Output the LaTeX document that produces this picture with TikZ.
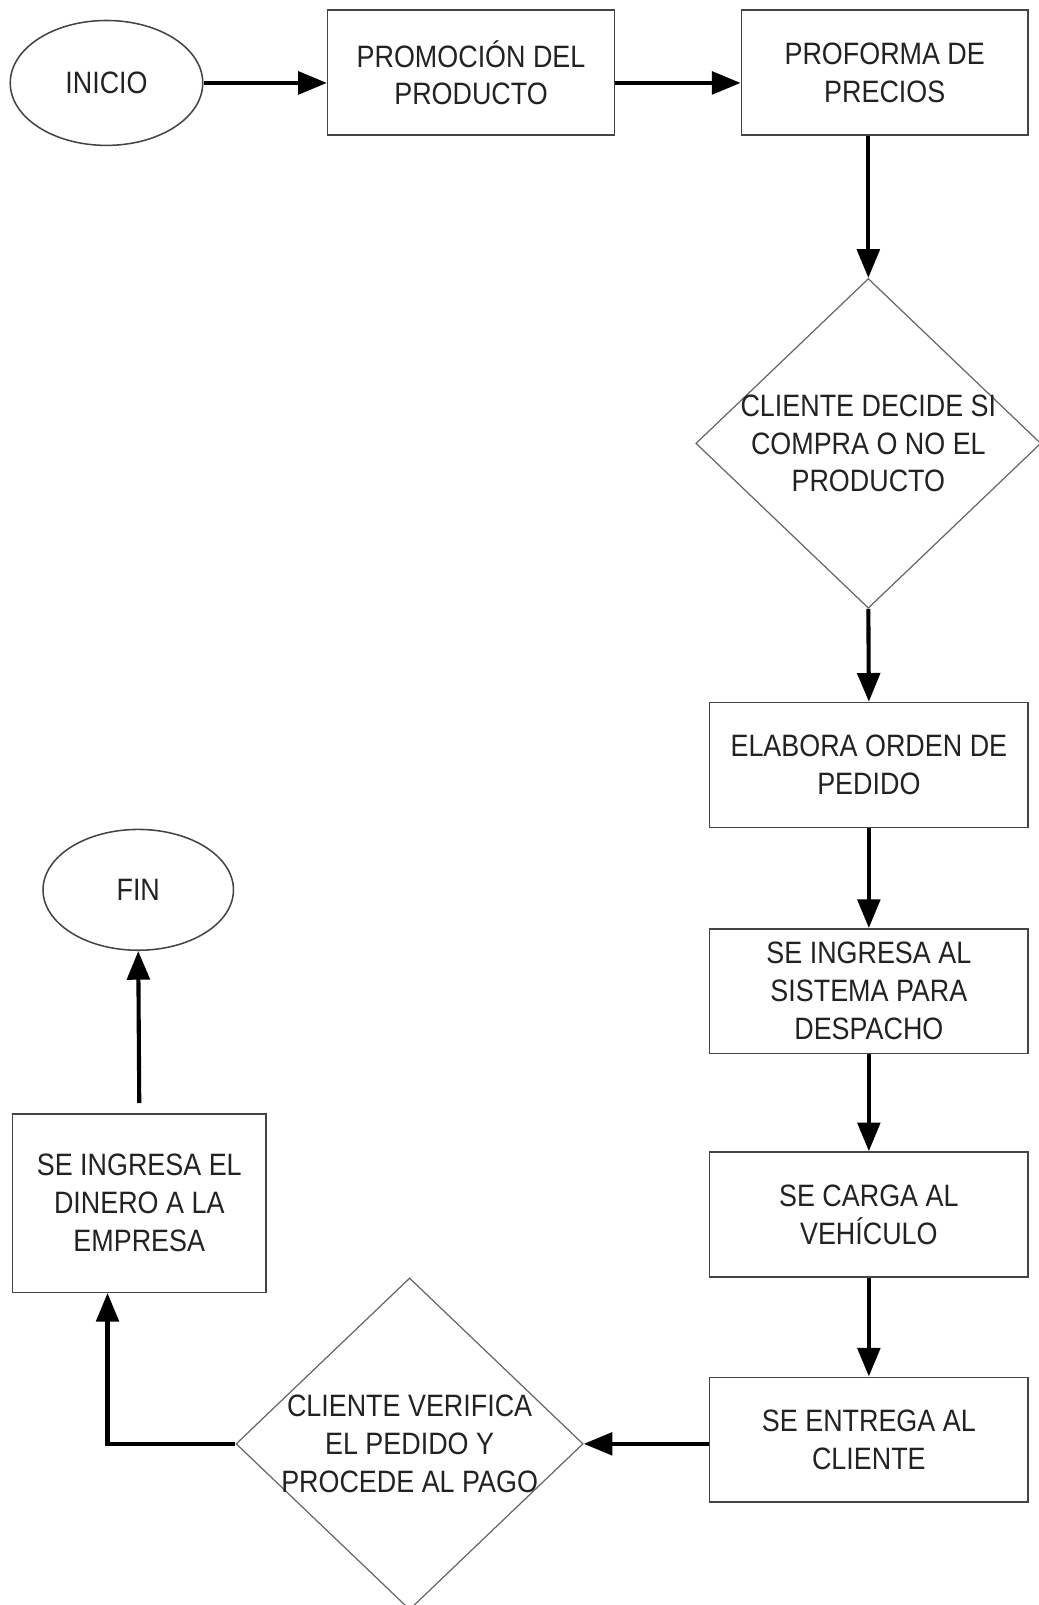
\documentclass[tikz,border=0pt]{standalone}
\usepackage{fontspec}
\setmainfont[FakeStretch=0.87]{Liberation Sans}
\usetikzlibrary{shapes.geometric,arrows.meta,calc}
\definecolor{txt}{HTML}{222222}
\definecolor{bord}{HTML}{444444}
\definecolor{dbord}{HTML}{666666}
\begin{document}
\begin{tikzpicture}[x=0.5pt,y=-0.5pt,
  every node/.style={font=\fontsize{15.1pt}{18.5pt}\selectfont, text=txt, align=center, inner sep=0pt},
  proc/.style={draw=bord, line width=0.75pt, rectangle, minimum width=155.5pt, minimum height=61pt},
  term/.style={draw=bord, line width=0.75pt, ellipse, minimum width=94pt, minimum height=61pt},
  dec/.style={draw=dbord, line width=0.6pt, diamond, minimum width=168.5pt, minimum height=161pt},
  conn/.style={line width=2pt, -{Triangle[length=14pt,width=11pt]}}]
\useasboundingbox (0,0) rectangle (1014.6,1567.4);
\node[term] (inicio) at (104,81) {INICIO};
\node[proc, minimum width=140pt] (promo) at (460,71) {PROMOCIÓN DEL\\PRODUCTO};
\node[proc, minimum width=140pt] (proforma) at (864,71) {PROFORMA DE\\PRECIOS};
\node[dec] (d1) at (848,433) {};
\node (d1t) at (d1.center) {CLIENTE DECIDE SI\\COMPRA O NO EL\\PRODUCTO};
\node[proc] (elabora) at (848.5,747) {ELABORA ORDEN DE\\PEDIDO};
\node[proc] (sistema) at (848.5,968) {SE INGRESA AL\\SISTEMA PARA\\DESPACHO};
\node[proc] (carga) at (848.5,1186) {SE CARGA AL\\VEHÍCULO};
\node[proc] (entrega) at (848.5,1406) {SE ENTREGA AL\\CLIENTE};
\node[dec, minimum width=169.5pt, minimum height=162pt] (d2) at (400,1410) {};
\node (d2t) at (d2.center) {CLIENTE VERIFICA\\EL PEDIDO Y\\PROCEDE AL PAGO};
\node[proc, minimum width=124pt, minimum height=87pt] (dinero) at (136,1175) {SE INGRESA EL\\DINERO A LA\\EMPRESA};
\node[term, minimum width=93pt, minimum height=59pt] (fin) at (135,869) {FIN};

\draw[conn] (inicio.east) -- (inicio.east -| promo.west);
\draw[conn] (promo.east |- inicio.east) -- (proforma.west |- inicio.east);
\draw[conn] ([xshift=-8pt]proforma.south) -- (d1.north);
\draw[conn] (d1.south) -- (elabora.north);
\draw[conn] (elabora) -- (sistema);
\draw[conn] (sistema) -- (carga);
\draw[conn] (carga) -- (entrega);
\draw[conn] (entrega.west |- d2.east) -- (d2.east);
\draw[conn] (d2.west) -| ([xshift=-15.5pt]dinero.south);
\draw[conn] ([yshift=5pt]dinero.north) -- (fin.south);
\end{tikzpicture}
\end{document}
